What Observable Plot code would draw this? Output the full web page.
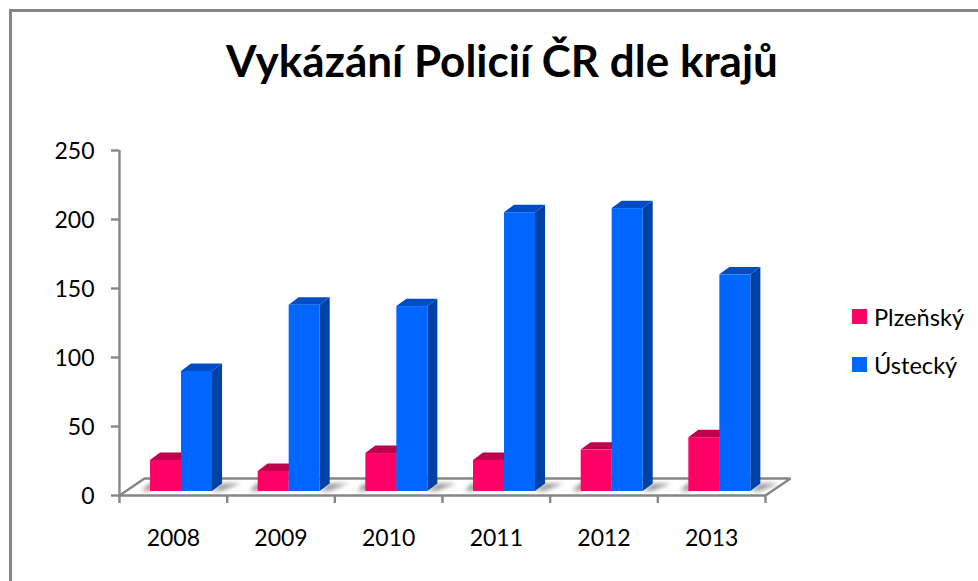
<!DOCTYPE html>
<html><head><meta charset="utf-8">
<script src="https://cdn.jsdelivr.net/npm/d3@7"></script>
<script src="https://cdn.jsdelivr.net/npm/@observablehq/plot@0.6"></script>
<style>
html,body{margin:0;padding:0;background:#fff;}
#wrap{position:relative;width:978px;height:581px;overflow:hidden;font-family:Lato,sans-serif;color:#000;}
#frame{position:absolute;left:9px;top:9px;width:1000px;height:600px;border:3px solid #868686;box-sizing:border-box;}
#title{position:absolute;left:0;top:32px;width:1004px;text-align:center;font-size:44px;font-weight:700;line-height:56px;}
.lg{position:absolute;left:852px;font-size:23.6px;line-height:28px;display:flex;align-items:center;}
.lg i{display:block;width:15px;height:15px;margin-right:7px;}
svg{position:absolute;left:0;top:0;}
</style></head><body>
<div id="wrap"><div id="chart"></div><div id="frame"></div>
<div id="title">Vykázání Policií ČR dle krajů</div>
<div class="lg" style="top:302.5px"><i style="background:#ff0066"></i>Plzeňský</div>
<div class="lg" style="top:350.5px"><i style="background:#0066ff"></i>Ústecký</div>
</div>
<script>
const years = [2008, 2009, 2010, 2011, 2012, 2013];
const plzensky = [22.5, 14.5, 27.5, 22.5, 30, 39];
const ustecky = [87, 135, 134, 202, 205, 157];
const yTicks = [0, 50, 100, 150, 200, 250];

// pseudo-3D geometry, in scale units
const base = 2.9, dxBar = 0.093, dyBar = 5.4;
const floorDx = 0.232, floorDy = 12.3;
const series = [
  {name: "Plzeňský", vals: plzensky, l: 0.288, r: 0.576, front: "#ff0066", side: "#b8004a", top: "#bf004c"},
  {name: "Ústecký", vals: ustecky, l: 0.576, r: 0.864, front: "#0066ff", side: "#0041a6", top: "#004cc4"}
];
const bars = series.flatMap(s => s.vals.map((v, i) => ({
  key: s.name + years[i], x1: i + s.l, x2: i + s.r, y1: base, y2: base + v, front: s.front, side: s.side, top: s.top
})));
const sideRows = bars.flatMap(b => [
  {key: b.key, x: b.x2, y1: b.y1, y2: b.y2, c: b.side},
  {key: b.key, x: b.x2 + dxBar, y1: b.y1 + dyBar, y2: b.y2 + dyBar, c: b.side}
]);
const topRows = bars.flatMap(b => [
  {key: b.key, y: b.y2, x1: b.x1, x2: b.x2, c: b.top},
  {key: b.key, y: b.y2 + dyBar, x1: b.x1 + dxBar, x2: b.x2 + dxBar, c: b.top}
]);
const shadowRows = years.flatMap((yr, i) => [
  {key: yr + "r", y: base, x1: i + 0.864, x2: i + 0.95},
  {key: yr + "r", y: base + dyBar, x1: i + 0.957, x2: i + 1.13},
  {key: yr + "l", y: base, x1: i + 0.21, x2: i + 0.288},
  {key: yr + "l", y: base + dyBar, x1: i + 0.28, x2: i + 0.38}
]);
const floorLine = [
  {x: floorDx, y: floorDy}, {x: 6 + floorDx, y: floorDy}, {x: 6, y: 0}, {x: 0, y: 0}, {x: floorDx, y: floorDy}
];
const grey = "#868686";

const plot = Plot.plot({
  width: 978, height: 581,
  marginLeft: 119, marginRight: 213, marginTop: 150, marginBottom: 86,
  style: {background: "transparent", fontFamily: "Lato, sans-serif", fontSize: "23px", color: "#000", overflow: "visible"},
  x: {type: "linear", domain: [0, 6]},
  y: {type: "linear", domain: [0, 250]},
  marks: [
    Plot.line(floorLine, {x: "x", y: "y", stroke: grey, strokeWidth: 2.4, strokeLinejoin: "miter"}),
    Plot.areaX(shadowRows, {y: "y", x1: "x1", x2: "x2", z: "key", fill: "#8a8a8a", fillOpacity: 0.85, imageFilter: "blur(2px)"}),
    Plot.ruleX([0], {y1: 0, y2: 250, stroke: grey, strokeWidth: 2.4}),
    Plot.tickY(yTicks, {y: d => d, stroke: grey, strokeWidth: 2.4, strokeOpacity: 1, insetLeft: -8, insetRight: 638 + 8, frameAnchor: "left"}),
    Plot.axisY({ticks: yTicks, tickSize: 0, tickPadding: 25, dy: 1, tickFormat: d => String(d), label: null}),
    Plot.axisX({ticks: d3.range(0, 7), tickSize: 8, tickFormat: () => "", label: null, stroke: grey, strokeWidth: 2.4, strokeOpacity: 1}),
    Plot.axisX({ticks: years.map((_, i) => i + 0.5), tickSize: 0, tickPadding: 34, label: null,
      tickFormat: d => String(years[d - 0.5])}),
    Plot.areaY(sideRows, {x: "x", y1: "y1", y2: "y2", z: "key", fill: "c"}),
    Plot.areaX(topRows, {y: "y", x1: "x1", x2: "x2", z: "key", fill: "c"}),
    Plot.rect(bars, {x1: "x1", x2: "x2", y1: "y1", y2: "y2", fill: "front"})
  ]
});
document.getElementById("chart").append(plot);
</script></body></html>
